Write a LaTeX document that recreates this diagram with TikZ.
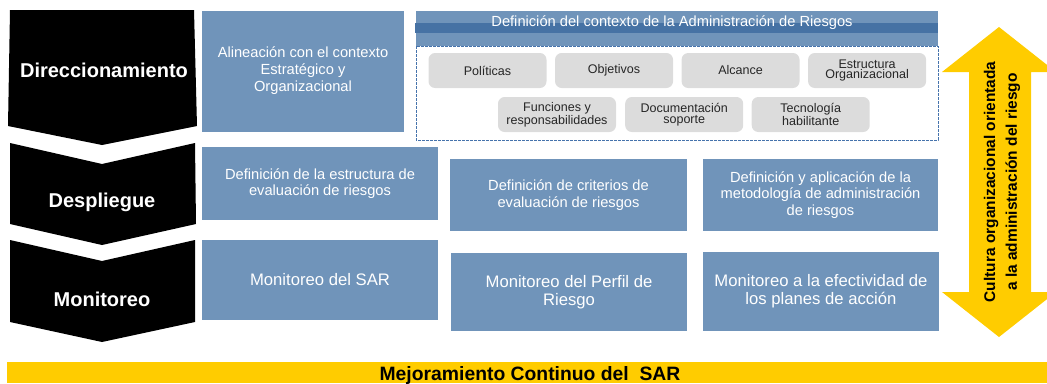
\documentclass[tikz,border=0pt]{standalone}
\usepackage{fontspec}
\setmainfont{Liberation Sans}
\usetikzlibrary{positioning,calc,shapes}
\definecolor{boxblue}{RGB}{112,148,186}
\definecolor{bandblue}{RGB}{70,114,164}
\definecolor{pillgray}{RGB}{220,220,220}
\definecolor{sargold}{RGB}{255,204,0}
\definecolor{dashblue}{RGB}{70,115,172}
\tikzset{
    stage/.style = {text=white, font=\bfseries\fontsize{15}{18}\selectfont},
    chevron/.style = {fill=black},
    task/.style = {fill=boxblue, text=white, align=center, inner sep=0pt,
        font=\fontsize{11}{12.5}\selectfont},
    bigtask/.style = {task, font=\fontsize{12.5}{13.7}\selectfont},
    pill/.style = {fill=pillgray, rounded corners=5pt, align=center, inner sep=0pt,
        minimum width=88.5pt, minimum height=26.25pt, text=black!85,
        font=\fontsize{9.4}{8}\selectfont},
    culture/.style = {fill=sargold}
}

\begin{document}
\begin{tikzpicture}[x=0.75pt, y=-0.75pt]
        \useasboundingbox (0,0) rectangle (1047,383);
        \clip (0,0) rectangle (1047,383);
        \fill[chevron] (10,10) -- (194,10) -- (197,126) -- (102,145) -- (8,126) -- cycle;
        \fill[chevron] (10,143) -- (102,164) -- (195,143) -- (196,224) -- (102,245) -- (10,224) -- cycle;
        \fill[chevron] (10,240) -- (102,261) -- (195,240) -- (195,322) -- (102,342) -- (10,322) -- cycle;
        \node [stage] (dir) at (104,70) {Direccionamiento};
        \node [stage] (desp) at (102,202) {Despliegue};
        \node [stage] (mon) at (102,299) {Monitoreo};
        \node [task, minimum width=151.5pt, minimum height=90.75pt, font=\fontsize{11}{12.75}\selectfont] (alin) at (303,71)
            {Alineación con el contexto\\Estratégico y\\Organizacional};
        \node [task, minimum width=177pt, minimum height=54.75pt] (estr) at (320,183.5)
            {Definición de la estructura de\\evaluación de riesgos};
        \node [bigtask, minimum width=177pt, minimum height=60pt] (monsar) at (320,280) {Monitoreo del SAR};
        \node [task, minimum width=177.75pt, minimum height=54pt] (crit) at (568.5,195)
            {Definición de criterios de\\evaluación de riesgos};
        \node [task, minimum width=176.25pt, minimum height=54pt] (metod) at (820.5,195)
            {Definición y aplicación de la\\metodología de administración\\de riesgos};
        \node [bigtask, minimum width=177pt, minimum height=58.5pt] (perfil) at (569,292)
            {Monitoreo del Perfil de\\Riesgo};
        \node [bigtask, minimum width=177pt, minimum height=59.25pt] (planes) at (821,291.5)
            {Monitoreo a la efectividad de\\los planes de acción};
        \fill[boxblue] (416,11) rectangle (938,46);
        \fill[bandblue] (415,23) rectangle (938,33);
        \node [text=white, font=\fontsize{11}{12}\selectfont] (ctx) at (672,23)
            {Definición del contexto de la Administración de Riesgos};
        \draw [dashblue, line width=0.75pt, dash pattern=on 2pt off 1pt] (416,46) rectangle (938,140);
        \node [pill] (pol) at (487.5,70.5) {Políticas};
        \node [pill, right=6pt of pol] (obj) {Objetivos};
        \node [pill, right=6pt of obj] (alc) {Alcance};
        \node [pill, right=6pt of alc] (org) {Estructura\\Organizacional};
        \node [pill] (func) at (557,114.5) {Funciones y\\responsabilidades};
        \node [pill, right=6.5pt of func] (doc) {Documentación\\soporte};
        \node [pill, right=6pt of doc] (tec) {Tecnología\\habilitante};
        \fill[culture] (999,27) -- (1056,72) -- (1031,72) -- (1031,292) -- (1056,292) -- (999,337)
            -- (942,292) -- (969,292) -- (969,72) -- (942,72) -- cycle;
        \node [rotate=90, align=center, font=\bfseries\fontsize{11.6}{16.3}\selectfont] (cult) at (1002,182)
            {Cultura organizacional orientada\\a la administración del riesgo};
        \fill[culture] (7,362) rectangle (1047,383);
        \node [anchor=base, font=\bfseries\fontsize{14.5}{16}\selectfont] (mejora) at (530,380)
            {Mejoramiento Continuo del\ \ SAR};
\end{tikzpicture}
\end{document}
